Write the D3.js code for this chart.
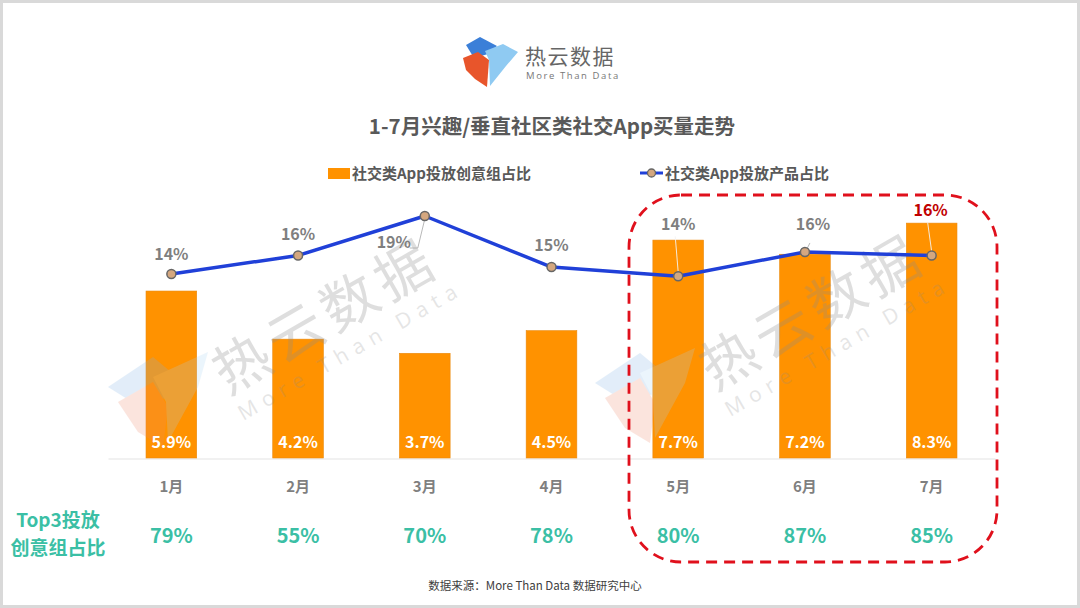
<!DOCTYPE html>
<html><head><meta charset="utf-8">
<script src="https://cdn.jsdelivr.net/npm/d3@7"></script>
<style>
html,body{margin:0;padding:0;background:#fff;}
svg{display:block;font-family:"Noto Sans CJK SC","Noto Sans",sans-serif;}
</style></head>
<body>
<script>
const months = ["1月","2月","3月","4月","5月","6月","7月"];
const creativeShare = [5.9, 4.2, 3.7, 4.5, 7.7, 7.2, 8.3];      // 社交类App投放创意组占比 (%)
const productShare = [14.0, 15.6, 19.0, 14.6, 13.8, 15.9, 15.6];  // 社交类App投放产品占比 (%)
const top3Share = [79, 55, 70, 78, 80, 87, 85];                    // Top3投放创意组占比 (%)
const titleText = "1-7月兴趣/垂直社区类社交App买量走势";
const legendBar = "社交类App投放创意组占比";
const legendLine = "社交类App投放产品占比";
const rowLabel = ["Top3投放", "创意组占比"];
const sourceText = "数据来源：More Than Data 数据研究中心";

const W = 1080, H = 608;
const svg = d3.select("body").append("svg").attr("width", W).attr("height", H);

// frame
svg.append("rect").attr("x",0).attr("y",0).attr("width",W).attr("height",H).attr("fill","#fff");
svg.append("rect").attr("x",1.5).attr("y",1.5).attr("width",W-3).attr("height",H-3)
  .attr("fill","none").attr("stroke","#d9d9d9").attr("stroke-width",3);

// logo
const logo = svg.append("g");
logo.append("path").attr("d","M466,45 L480,37 L497,46 L488,54 L474,58 Z").attr("fill","#3b7fd8");
logo.append("path").attr("d","M463,58 L478,52 L489,60 L487,87 L475,79 L466,70 Z").attr("fill","#e8552b");
logo.append("path").attr("d","M485,51 L503,44 L518,52 L506,66 L490,86 L489,60 Z").attr("fill","#8fcaf2");
logo.append("text").attr("x",525).attr("y",64).attr("font-size",21).attr("fill","#666")
  .attr("letter-spacing",1.5).text("热云数据");
logo.append("text").attr("x",526).attr("y",79).attr("font-size",9.5).attr("fill","#777")
  .attr("font-family","Open Sans, sans-serif").attr("letter-spacing",1.6).text("More Than Data");

// title
svg.append("text").attr("x",552).attr("y",134).attr("text-anchor","middle")
  .attr("font-size",20.5).attr("font-weight","bold").attr("fill","#595959").text(titleText);

// legend
svg.append("rect").attr("x",328).attr("y",168).attr("width",22).attr("height",11).attr("fill","#ff9200");
svg.append("text").attr("x",352).attr("y",179).attr("font-size",15).attr("font-weight","bold")
  .attr("fill","#595959").text(legendBar);
svg.append("line").attr("x1",640).attr("x2",663).attr("y1",173).attr("y2",173)
  .attr("stroke","#2040d8").attr("stroke-width",3);
svg.append("circle").attr("cx",651.5).attr("cy",173).attr("r",4).attr("fill","#d4a77f")
  .attr("stroke","#666").attr("stroke-width",1.3);
svg.append("text").attr("x",665).attr("y",179).attr("font-size",15).attr("font-weight","bold")
  .attr("fill","#595959").text(legendLine);

// scales
const x = d3.scaleBand().domain(months).range([108, 995]).paddingInner(0.6).paddingOuter(0.3);
const yBar = d3.scaleLinear().domain([0, 10]).range([458, 175]);
const yLine = d3.scaleLinear().domain([0, 20]).range([436.4, 204.4]);
const cx = m => x(m) + x.bandwidth()/2;

// baseline axis
const axis = svg.append("g").attr("transform","translate(0,458.5)")
  .call(d3.axisBottom(x).tickSize(0).tickFormat(""));
axis.select(".domain").attr("stroke","#e3e3e3").attr("stroke-width",1.2);

// bars
svg.append("g").selectAll("rect").data(creativeShare).join("rect")
  .attr("x",(d,i)=>x(months[i])).attr("width",x.bandwidth())
  .attr("y",d=>yBar(d)).attr("height",d=>yBar(0)-yBar(d))
  .attr("fill","#ff9200").attr("stroke","#e98a10").attr("stroke-width",0.6);

// watermarks (drawn over the bars, translucent)
function watermark(cx, cy){
  const g = svg.append("g");
  const lg = g.append("g").attr("transform",`translate(${cx-215},${cy+35})`).attr("opacity",0.22);
  lg.append("path").attr("d","M0,40 L45,10 L75,35 L40,65 Z").attr("fill","#7fb2e6");
  lg.append("path").attr("d","M10,55 L45,35 L60,60 L55,100 L30,85 Z").attr("fill","#f08a6a");
  lg.append("path").attr("d","M45,30 L100,5 L90,40 L60,95 L58,55 Z").attr("fill","#a9d4f3");
  g.append("text").attr("transform",`translate(${cx},${cy}) rotate(-30)`)
    .attr("text-anchor","middle").attr("dominant-baseline","central")
    .attr("font-size",56).attr("fill","#8c8c8c").attr("opacity",0.28).attr("letter-spacing",6).text("热云数据");
  g.append("text").attr("transform",`translate(${cx+27},${cy+38}) rotate(-30)`)
    .attr("text-anchor","middle").attr("dominant-baseline","central")
    .attr("font-family","Open Sans, sans-serif")
    .attr("font-size",21).attr("fill","#8c8c8c").attr("opacity",0.22).attr("letter-spacing",7).text("More Than Data");
}
watermark(323, 312);
watermark(810, 308);

// bar value labels
svg.append("g").selectAll("text").data(creativeShare).join("text")
  .attr("x",(d,i)=>cx(months[i])).attr("y",448).attr("text-anchor","middle")
  .attr("font-size",16).attr("font-weight","bold").attr("fill","#fff")
  .text(d=>d.toFixed(1)+"%");

// line label positions (offsets relative to point)
const labelOffsets = [[0,-14],[0,-15],[-31,32],[0,-16],[0,-46],[8,-22],[-1,-39]];
const labelColors = ["#7f7f7f","#7f7f7f","#7f7f7f","#7f7f7f","#7f7f7f","#7f7f7f","#c00000"];

// leader lines
const leaders = svg.append("g");
productShare.forEach((v,i)=>{
  const px = cx(months[i]), py = yLine(v);
  if(i===2){
    leaders.append("polyline").attr("points",`${px},${py+3} ${px-7},${py+32} ${px-15},${py+32}`)
      .attr("fill","none").attr("stroke","#a6a6a6").attr("stroke-width",0.8);
  } else if(i===4 || i===6){
    leaders.append("line").attr("x1",px).attr("y1",py-4).attr("x2",px+labelOffsets[i][0]-3).attr("y2",py+labelOffsets[i][1]+6)
      .attr("stroke","#f3f3f3").attr("stroke-width",0.9);
  } else if(i===5){
    leaders.append("line").attr("x1",px+2).attr("y1",py-3).attr("x2",px+5).attr("y2",py-9)
      .attr("stroke","#a6a6a6").attr("stroke-width",0.8);
  }
});

// line
const line = d3.line().x((d,i)=>cx(months[i])).y(d=>yLine(d));
svg.append("path").datum(productShare).attr("d",line).attr("fill","none")
  .attr("stroke","#2040d8").attr("stroke-width",3.5).attr("stroke-linejoin","round");
svg.append("g").selectAll("circle").data(productShare).join("circle")
  .attr("cx",(d,i)=>cx(months[i])).attr("cy",d=>yLine(d)).attr("r",4.5)
  .attr("fill","#d4a77f").attr("stroke","#666").attr("stroke-width",1.5);
svg.append("g").selectAll("text").data(productShare).join("text")
  .attr("x",(d,i)=>cx(months[i])+labelOffsets[i][0]).attr("y",(d,i)=>yLine(d)+labelOffsets[i][1])
  .attr("text-anchor","middle").attr("font-size",16).attr("font-weight","bold")
  .attr("fill",(d,i)=>labelColors[i]).text(d=>Math.round(d)+"%");

// month labels
svg.append("g").selectAll("text").data(months).join("text")
  .attr("x",d=>cx(d)).attr("y",492).attr("text-anchor","middle")
  .attr("font-size",15).attr("font-weight","bold").attr("fill","#7f7f7f").text(d=>d);

// top3 row
svg.append("g").selectAll("text").data(top3Share).join("text")
  .attr("x",(d,i)=>cx(months[i])).attr("y",543).attr("text-anchor","middle")
  .attr("font-size",20).attr("font-weight","bold").attr("fill","#3bbfa5").text(d=>d+"%");
svg.append("g").selectAll("text").data(rowLabel).join("text")
  .attr("x",58).attr("y",(d,i)=>527+i*28).attr("text-anchor","middle")
  .attr("font-size",19).attr("font-weight","bold").attr("fill","#3bbfa5").text(d=>d);

// highlight dashed box
svg.append("rect").attr("x",629).attr("y",195).attr("width",368).attr("height",367)
  .attr("rx",52).attr("ry",52).attr("fill","none").attr("stroke","#e0101c")
  .attr("stroke-width",2.8).attr("stroke-dasharray","11,7");

// source
svg.append("text").attr("x",535).attr("y",590).attr("text-anchor","middle")
  .attr("font-size",11.5).attr("fill","#404040").text(sourceText);
</script>
</body></html>
